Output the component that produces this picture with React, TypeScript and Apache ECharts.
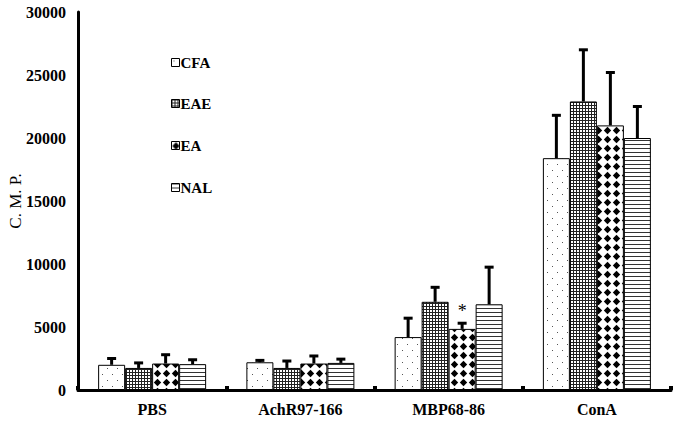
import React, { useEffect, useRef } from 'react';
import * as echarts from 'echarts';

const categories = ['PBS', 'AchR97-166', 'MBP68-86', 'ConA'];
const seriesNames = ['CFA', 'EAE', 'EA', 'NAL'];
const cfaValues = [2000, 2200, 4200, 18400];
const cfaErrors = [500, 150, 1500, 3400];
const eaeValues = [1750, 1750, 7000, 22900];
const eaeErrors = [400, 550, 1150, 4100];
const eaValues = [2100, 2100, 4850, 21000];
const eaErrors = [700, 600, 450, 4200];
const nalValues = [2050, 2150, 6800, 20000];
const nalErrors = [350, 300, 2950, 2500];
const eaSignificance = ['', '', '*', ''];
const yTicks = [0, 5000, 10000, 15000, 20000, 25000, 30000];
const yAxisTitle = 'C. M. P.';

const FONT = '"Liberation Serif", "Times New Roman", serif';
const BAR_W = 27;

function makePattern(kind: string) {
  const c = document.createElement('canvas');
  const ctx = c.getContext('2d')!;
  if (kind === 'dots') {
    c.width = 10; c.height = 12;
    ctx.fillStyle = '#fff'; ctx.fillRect(0, 0, 10, 12);
    ctx.fillStyle = '#555';
    ctx.fillRect(2, 2, 1, 1);
    ctx.fillRect(7, 8, 1, 1);
  } else if (kind === 'grid') {
    c.width = 3; c.height = 3;
    ctx.fillStyle = '#fff'; ctx.fillRect(0, 0, 3, 3);
    ctx.fillStyle = '#222';
    ctx.fillRect(0, 0, 3, 1);
    ctx.fillRect(0, 0, 1, 3);
  } else if (kind === 'diamond') {
    c.width = 9; c.height = 9;
    ctx.fillStyle = '#fff'; ctx.fillRect(0, 0, 9, 9);
    ctx.fillStyle = '#000';
    ctx.beginPath();
    ctx.moveTo(4.5, 0.8);
    ctx.lineTo(8.2, 4.5);
    ctx.lineTo(4.5, 8.2);
    ctx.lineTo(0.8, 4.5);
    ctx.closePath();
    ctx.fill();
  } else {
    c.width = 4; c.height = 4;
    ctx.fillStyle = '#fff'; ctx.fillRect(0, 0, 4, 4);
    ctx.fillStyle = '#333';
    ctx.fillRect(0, 0, 4, 1);
  }
  return { image: c, repeat: 'repeat' };
}

export default function App() {
  const ref = useRef<HTMLDivElement>(null);
  useEffect(() => {
    if (!ref.current) return;
    const chart = echarts.init(ref.current, null, { renderer: 'svg' });
    const values = [cfaValues, eaeValues, eaValues, nalValues];
    const errors = [cfaErrors, eaeErrors, eaErrors, nalErrors];
    const patterns = ['dots', 'grid', 'diamond', 'hlines'].map(makePattern);
    const legendTops = [55, 96, 138, 180];

    const barSeries = seriesNames.map((name, s) => ({
      name,
      type: 'bar',
      data: values[s],
      barWidth: BAR_W,
      barGap: '0%',
      itemStyle: { color: patterns[s] as any, borderColor: '#000', borderWidth: 1 },
      z: 2,
    }));

    const errSeries = seriesNames.map((name, s) => ({
      name: name + '_err',
      type: 'custom',
      z: 5,
      data: categories.map((_, i) => [i, values[s][i], errors[s][i]]),
      encode: { x: 0, y: 1 },
      renderItem: (params: any, api: any) => {
        const idx = api.value(0);
        const v = api.value(1);
        const e = api.value(2);
        const base = api.coord([idx, v]);
        const top = api.coord([idx, v + e]);
        const x = base[0] + (s - 1.5) * BAR_W;
        const children: any[] = [
          { type: 'line', shape: { x1: x, y1: base[1], x2: x, y2: top[1] }, style: { stroke: '#000', lineWidth: 3 } },
          { type: 'line', shape: { x1: x - 4.5, y1: top[1], x2: x + 4.5, y2: top[1] }, style: { stroke: '#000', lineWidth: 3 } },
        ];
        if (s === 2 && eaSignificance[idx]) {
          children.push({
            type: 'text',
            x,
            y: top[1] - 3,
            style: { text: eaSignificance[idx], align: 'center', verticalAlign: 'bottom', font: '18px ' + FONT, fill: '#000' },
          });
        }
        return { type: 'group', children };
      },
    }));

    chart.setOption({
      animation: false,
      backgroundColor: '#fff',
      grid: { left: 78, right: 6, top: 12, bottom: 34, outerBoundsMode: 'none', containLabel: false },
      graphic: [
        {
          type: 'text',
          x: 15,
          y: 201,
          rotation: Math.PI / 2,
          style: { text: yAxisTitle, align: 'center', verticalAlign: 'middle', font: '17px ' + FONT, fill: '#000' },
        },
      ],
      legend: seriesNames.map((n, i) => ({
        data: [n],
        left: 171,
        top: legendTops[i],
        orient: 'vertical',
        icon: 'rect',
        itemWidth: 8,
        itemHeight: 8,
        itemGap: 3,
        padding: 0,
        selectedMode: false,
        itemStyle: { borderColor: '#000', borderWidth: 1 },
        textStyle: { fontFamily: FONT, fontWeight: 'bold', fontSize: 15, color: '#000', padding: [0, 0, 0, -4] },
      })),
      xAxis: {
        type: 'category',
        data: categories,
        axisLine: { lineStyle: { color: '#000', width: 3 } },
        axisTick: { show: true, inside: true, length: 4, lineStyle: { color: '#000', width: 4 } },
        axisLabel: { fontFamily: FONT, fontWeight: 'bold', fontSize: 16, color: '#000', margin: 11 },
      },
      yAxis: {
        type: 'value',
        min: yTicks[0],
        max: yTicks[yTicks.length - 1],
        interval: yTicks[1] - yTicks[0],
        axisLine: { show: true, lineStyle: { color: '#000', width: 3 } },
        axisTick: { show: false },
        splitLine: { show: false },
        axisLabel: { fontFamily: FONT, fontWeight: 'bold', fontSize: 16, color: '#000', margin: 12, formatter: (v: number) => String(v) },
      },
      series: [...barSeries, ...errSeries],
    } as any);
    return () => chart.dispose();
  }, []);
  return <div ref={ref} style={{ width: 677, height: 424, position: 'absolute', left: 0, top: 0 }} />;
}
